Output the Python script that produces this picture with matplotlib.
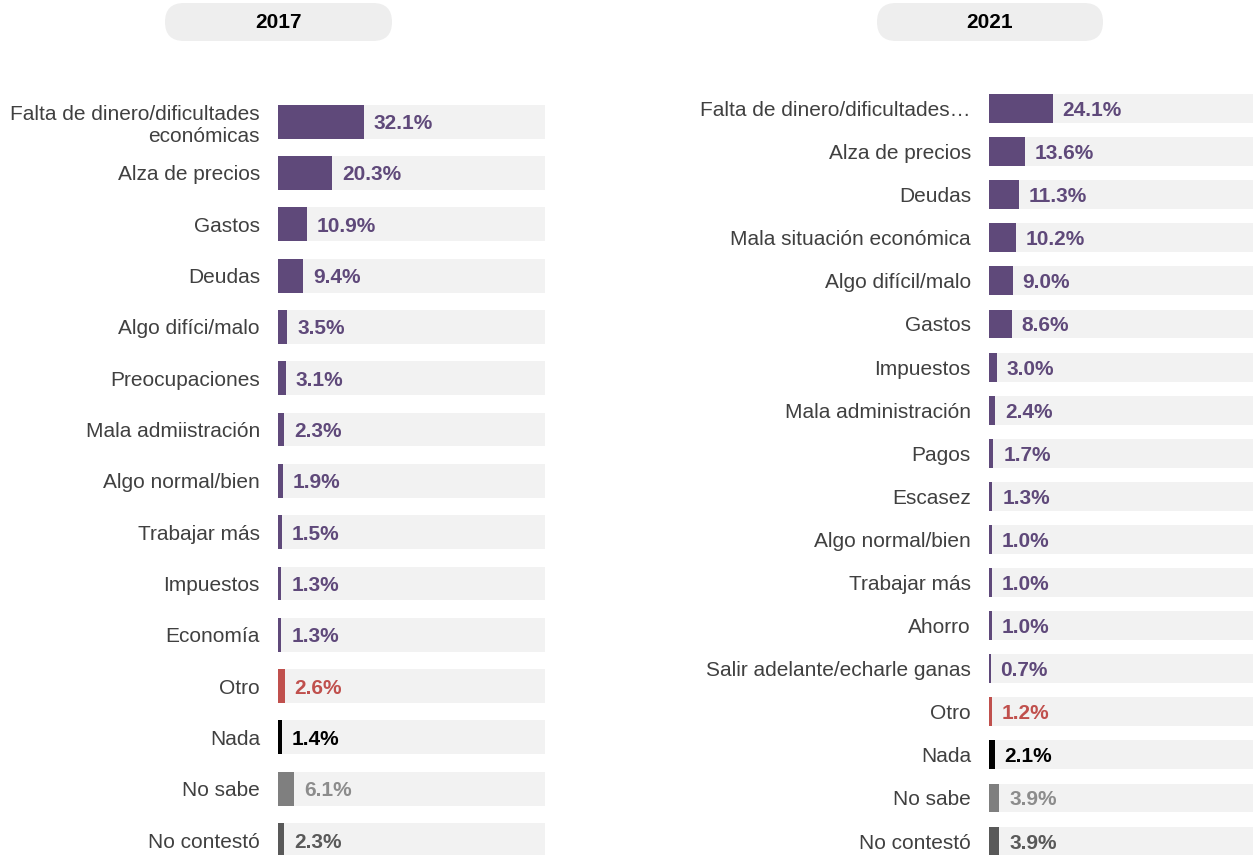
import matplotlib

matplotlib.use("Agg")
from matplotlib import pyplot as plt
from matplotlib.patches import FancyBboxPatch

plt.rcParams["font.family"] = ["Liberation Sans", "DejaVu Sans"]

PURPLE = "#5F497A"
RED = "#C0504D"
BLACK = "#000000"
GRAY = "#7F7F7F"
DARKGRAY = "#595959"
BG = "#F2F2F2"
LABEL_COLOR = "#404040"

labels_2017 = [
    "Falta de dinero/dificultades\neconómicas",
    "Alza de precios",
    "Gastos",
    "Deudas",
    "Algo difíci/malo",
    "Preocupaciones",
    "Mala admiistración",
    "Algo normal/bien",
    "Trabajar más",
    "Impuestos",
    "Economía",
    "Otro",
    "Nada",
    "No sabe",
    "No contestó",
]
values_2017 = [32.1, 20.3, 10.9, 9.4, 3.5, 3.1, 2.3, 1.9, 1.5, 1.3, 1.3, 2.6, 1.4, 6.1, 2.3]
colors_2017 = [PURPLE] * 11 + [RED, BLACK, GRAY, DARKGRAY]

labels_2021 = [
    "Falta de dinero/dificultades…",
    "Alza de precios",
    "Deudas",
    "Mala situación económica",
    "Algo difícil/malo",
    "Gastos",
    "Impuestos",
    "Mala administración",
    "Pagos",
    "Escasez",
    "Algo normal/bien",
    "Trabajar más",
    "Ahorro",
    "Salir adelante/echarle ganas",
    "Otro",
    "Nada",
    "No sabe",
    "No contestó",
]
values_2021 = [24.1, 13.6, 11.3, 10.2, 9.0, 8.6, 3.0, 2.4, 1.7, 1.3, 1.0, 1.0, 1.0, 0.7, 1.2, 2.1, 3.9, 3.9]
colors_2021 = [PURPLE] * 14 + [RED, BLACK, GRAY, DARKGRAY]

W, H = 1253, 855
fig = plt.figure(figsize=(W / 100, H / 100), dpi=100)


def px_axes(left, right, top, bottom):
    return fig.add_axes([left / W, 1 - bottom / H, (right - left) / W, (bottom - top) / H])


def draw_panel(ax, labels, values, colors, row_px, first_center, height):
    n = len(labels)
    rows = list(range(n))
    top_px = first_center - row_px / 2
    ax.set_xlim(0, 100)
    ax.set_ylim((H - top_px) / row_px - 0.5, -0.5)
    ax.barh(rows, [100] * n, height=height, color=BG, zorder=1)
    ax.barh(rows, values, height=height, color=colors, zorder=2)
    for r, v, c in zip(rows, values, colors):
        txt_c = "#8C8C8C" if c == GRAY else c
        ax.annotate(
            f"{v:.1f}%",
            (v, r),
            xytext=(7, 0),
            textcoords="offset points",
            va="center_baseline",
            ha="left",
            fontsize=15,
            fontweight="bold",
            color=txt_c,
            zorder=3,
        )
    ax.set_yticks(rows, labels, fontsize=15, color=LABEL_COLOR)
    for t in ax.get_yticklabels():
        t.set_multialignment("right")
    ax.tick_params(axis="y", length=0, pad=13)
    ax.set_xticks([])
    for s in ax.spines.values():
        s.set_visible(False)
    ax.patch.set_alpha(0)


ax1 = px_axes(278, 545, 96, H)
draw_panel(ax1, labels_2017, values_2017, colors_2017, 51.29, 122, 0.66)

ax2 = px_axes(989, 1253, 87, H)
draw_panel(ax2, labels_2021, values_2021, colors_2021, 43.09, 108.5, 0.67)

# header pills
deco = fig.add_axes([0, 0, 1, 1], zorder=-1)
deco.set_xlim(0, W)
deco.set_ylim(H, 0)
deco.axis("off")
for x0, x1, year in [(165, 392, "2017"), (877, 1103, "2021")]:
    deco.add_patch(
        FancyBboxPatch(
            (x0, 3), x1 - x0, 38,
            boxstyle="round,pad=0,rounding_size=19",
            facecolor="#EEEEEE", edgecolor="none",
        )
    )
    deco.text((x0 + x1) / 2, 22, year, ha="center", va="center",
              fontsize=15, fontweight="bold", color="#000000")

fig.savefig("out.png", dpi=100)
